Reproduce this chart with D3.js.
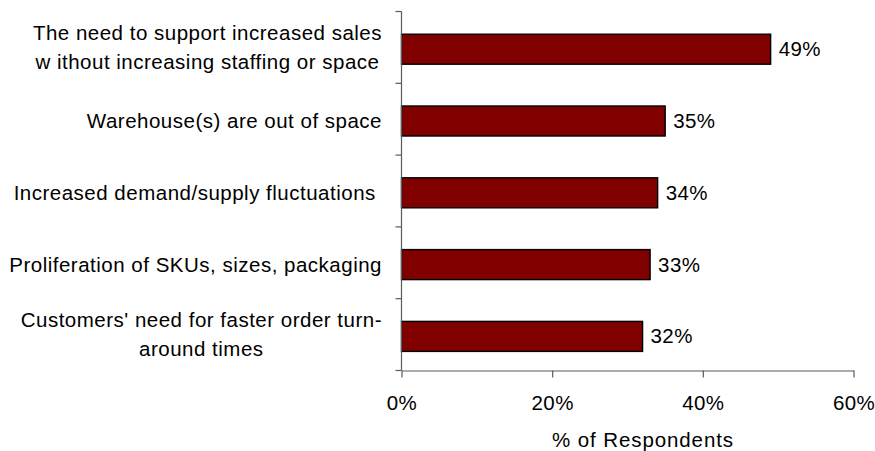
<!DOCTYPE html>
<html>
<head>
<meta charset="utf-8">
<script src="https://cdn.jsdelivr.net/npm/d3@7"></script>
<style>
  html, body { margin: 0; padding: 0; background: #fff; }
  svg { display: block; font-family: "Liberation Sans", Arial, sans-serif; }
  text { white-space: pre; }
</style>
</head>
<body>
<svg id="chart" width="875" height="451"></svg>
<script>
// Drivers of warehouse automation, share of respondents
const categories = [
  ["The need to support increased sales", "w ithout increasing staffing or space"],
  ["Warehouse(s) are out of space"],
  ["Increased demand/supply fluctuations "],
  ["Proliferation of SKUs, sizes, packaging"],
  ["Customers' need for faster order turn-", "around times"]
];
const values = [49, 35, 34, 33, 32];
const xTicks = [0, 20, 40, 60];
const xTitle = "% of Respondents";

const svg = d3.select("#chart");
const fontSize = 20.5;
const axisColor = "#5a5a5a";

const x = d3.scaleLinear().domain([0, 60]).range([401.5, 853.5]);
const y = d3.scaleBand().domain(d3.range(categories.length)).range([11.5, 370.5]).paddingInner(0).paddingOuter(0);
const barH = 30;
const barShift = 1.8;
const barY = i => y(i) + y.bandwidth() / 2 - barH / 2 + barShift;
const barMid = i => y(i) + y.bandwidth() / 2 + barShift;

// bars
svg.append("g").selectAll("rect").data(values).join("rect")
  .attr("x", x(0))
  .attr("y", (d, i) => barY(i))
  .attr("width", d => x(d) - x(0))
  .attr("height", barH)
  .attr("fill", "#800000")
  .attr("stroke", "#000")
  .attr("stroke-width", 1.4);

// value labels
svg.append("g").selectAll("text").data(values).join("text")
  .attr("x", d => x(d) + 8)
  .attr("y", (d, i) => barMid(i) + 7)
  .attr("font-size", fontSize)
  .attr("letter-spacing", 0.4)
  .attr("fill", "#000")
  .text(d => d + "%");

// y axis: line with outward ticks at band boundaries
const yAxis = svg.append("g");
yAxis.append("line")
  .attr("x1", x(0)).attr("x2", x(0))
  .attr("y1", y.range()[0]).attr("y2", y.range()[1])
  .attr("stroke", axisColor).attr("stroke-width", 1.2);
const bounds = d3.range(categories.length + 1).map(i => y.range()[0] + i * y.step());
yAxis.selectAll("line.tick").data(bounds).join("line")
  .attr("class", "tick")
  .attr("x1", x(0) - 6).attr("x2", x(0))
  .attr("y1", d => d).attr("y2", d => d)
  .attr("stroke", axisColor).attr("stroke-width", 1.2);

// category labels: lines centred within a block right-aligned to the axis
const labelRight = 382;
const lineGap = 29;
categories.forEach((lines, i) => {
  const g = svg.append("g");
  const texts = lines.map((s, k) => g.append("text")
    .attr("font-size", fontSize)
    .attr("letter-spacing", 0.5)
    .attr("fill", "#000")
    .attr("text-anchor", "middle")
    .text(s));
  const widths = texts.map(t => t.node().getComputedTextLength());
  const w = d3.max(widths);
  const cx = labelRight - w / 2;
  const firstBase = barMid(i) + 7 - (lines.length - 1) * lineGap / 2 - (lines.length > 1 ? 2 : 0);
  texts.forEach((t, k) => t.attr("x", cx).attr("y", firstBase + k * lineGap));
});

// x axis
const xAxisY = y.range()[1];
const xAxis = svg.append("g").attr("transform", `translate(0,${xAxisY})`)
  .call(d3.axisBottom(x).tickValues(xTicks).tickSize(7).tickSizeOuter(0).tickFormat(d => d + "%"));
xAxis.select(".domain").attr("stroke", axisColor).attr("stroke-width", 1.2);
xAxis.selectAll(".tick line").attr("stroke", axisColor).attr("stroke-width", 1.2);
xAxis.selectAll(".tick text")
  .attr("font-family", "Liberation Sans, Arial, sans-serif")
  .attr("font-size", fontSize)
  .attr("letter-spacing", 0.4)
  .attr("fill", "#000")
  .attr("dy", null)
  .attr("y", 39);

// x axis title
svg.append("text")
  .attr("x", 643)
  .attr("y", 447)
  .attr("text-anchor", "middle")
  .attr("font-size", fontSize)
  .attr("letter-spacing", 0.9)
  .attr("fill", "#000")
  .text(xTitle);
</script>
</body>
</html>
